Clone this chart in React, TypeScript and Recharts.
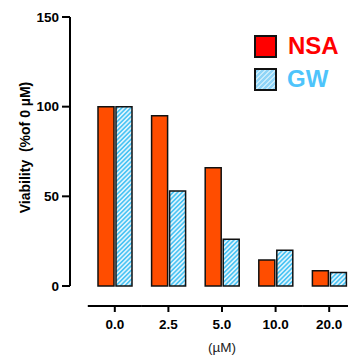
import React from 'react';
import { BarChart, Bar, XAxis, YAxis, Legend } from 'recharts';

const doses = ['0.0', '2.5', '5.0', '10.0', '20.0'];
const nsaValues = [100, 95, 66, 14.5, 8.5];
const gwValues = [100, 53, 26, 20, 7.5];
const yTicks = [0, 50, 100, 150];

const data = doses.map((dose, i) => ({ dose, nsa: nsaValues[i], gw: gwValues[i] }));

const FONT = '"Liberation Sans", Arial, Helvetica, sans-serif';

const DoseTick: React.FC<any> = ({ x, y, payload }) => (
  <g>
    <line x1={x - 27} x2={x + 27} y1={y + 20} y2={y + 20} stroke="#000" strokeWidth={2} />
    <line x1={x} x2={x} y1={y + 20} y2={y + 26} stroke="#000" strokeWidth={2} />
    <text x={x} y={y + 43} textAnchor="middle" fontFamily={FONT} fontWeight="bold" fontSize={13.5} fill="#000">
      {payload.value}
    </text>
  </g>
);

const LegendBox: React.FC = () => (
  <div style={{ fontFamily: FONT, fontWeight: 'bold', fontSize: 24, textAlign: 'left' }}>
    <div style={{ display: 'flex', alignItems: 'center', height: 24, marginBottom: 9 }}>
      <div style={{ width: 19, height: 19, background: '#ff0000', border: '2.5px solid #111' }} />
      <span style={{ color: '#ff0000', marginLeft: 11 }}>NSA</span>
    </div>
    <div style={{ display: 'flex', alignItems: 'center', height: 24 }}>
      <div
        style={{
          width: 19,
          height: 19,
          border: '2.5px solid #111',
          background: 'repeating-linear-gradient(-45deg, #8fd4f7 0px, #8fd4f7 2px, #c8ebfb 2px, #c8ebfb 3.5px)',
        }}
      />
      <span style={{ color: '#4ec4fb', marginLeft: 10 }}>GW</span>
    </div>
  </div>
);

const YLabel: React.FC<any> = ({ viewBox }) => {
  const cx = 24.5;
  const cy = viewBox.y + viewBox.height / 2 - 4;
  return (
    <text
      x={cx}
      y={cy}
      transform={`rotate(-90, ${cx}, ${cy})`}
      textAnchor="middle"
      dominantBaseline="central"
      fontFamily={FONT}
      fontWeight="bold"
      fontSize={14}
      fill="#000"
      style={{ whiteSpace: 'pre' }}
    >
      Viability  (%of 0 µM)
    </text>
  );
};

const XLabel: React.FC<any> = ({ viewBox }) => (
  <text
    x={viewBox.x + 18 + (viewBox.width - 18) / 2}
    y={viewBox.y + viewBox.height - 7}
    textAnchor="middle"
    fontFamily={FONT}
    fontSize={13.5}
    fill="#222"
  >
    (µM)
  </text>
);

export default function App() {
  return (
    <div style={{ position: 'absolute', left: 0, top: 0, width: 348, height: 359, overflow: 'hidden', background: '#fff' }}>
      <BarChart
        width={360}
        height={359}
        data={data}
        margin={{ top: 17, right: 4, bottom: 0, left: 0 }}
        barSize={16}
        barGap={2}
      >
        <defs>
          <pattern id="gwHatch" width={3.2} height={3.2} patternUnits="userSpaceOnUse" patternTransform="rotate(45)">
            <rect width={3.2} height={3.2} fill="#4cc4f4" />
            <line x1={0.8} x2={0.8} y1={0} y2={3.2} stroke="#ffffff" strokeWidth={1.3} />
          </pattern>
        </defs>
        <XAxis
          dataKey="dose"
          height={73}
          axisLine={false}
          tickLine={false}
          tickSize={0}
          tickMargin={0}
          padding={{ left: 18, right: 0 }}
          tick={<DoseTick />}
          interval={0}
          label={<XLabel />}
        />
        <YAxis
          width={70}
          domain={[0, 150]}
          ticks={yTicks}
          tickSize={8}
          tickMargin={3}
          axisLine={{ stroke: '#000', strokeWidth: 2 }}
          tickLine={{ stroke: '#000', strokeWidth: 2 }}
          tick={{ fill: '#000', fontFamily: FONT, fontWeight: 'bold', fontSize: 13.5 }}
          label={<YLabel />}
        />
        <Legend
          layout="horizontal"
          verticalAlign="middle"
          align="center"
          content={<LegendBox />}
          wrapperStyle={{ position: 'absolute', left: 254, top: 34, width: 100 }}
        />
        <Bar dataKey="nsa" name="NSA" fill="#ff4d00" stroke="#111" strokeWidth={1.5} isAnimationActive={false} />
        <Bar dataKey="gw" name="GW" fill="url(#gwHatch)" stroke="#111" strokeWidth={1.5} isAnimationActive={false} />
      </BarChart>
    </div>
  );
}
